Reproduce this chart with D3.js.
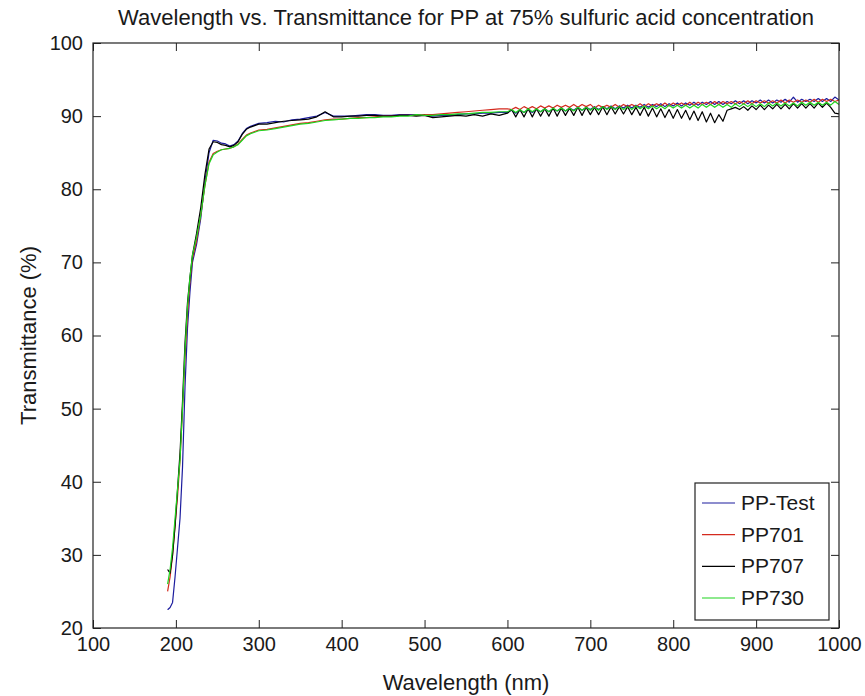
<!DOCTYPE html>
<html>
<head>
<meta charset="utf-8">
<script src="https://cdn.jsdelivr.net/npm/d3@7"></script>
<style>
  html, body { margin: 0; padding: 0; background: #fff; }
  svg { display: block; }
  text { font-family: "Liberation Sans", Arial, sans-serif; fill: #1a1a1a; }
</style>
</head>
<body>
<svg id="chart" width="865" height="696"></svg>
<script>
const title = "Wavelength vs. Transmittance for PP at 75% sulfuric acid concentration";
const xLabel = "Wavelength (nm)";
const yLabel = "Transmittance (%)";
const xTicks = [100, 200, 300, 400, 500, 600, 700, 800, 900, 1000];
const yTicks = [20, 30, 40, 50, 60, 70, 80, 90, 100];
const seriesNames = ["PP-Test", "PP701", "PP707", "PP730"];

const wavelengths = [
  190,193,196,199,202,205,208,211,214,217,220,225,230,235,240,245,250,255,260,265,270,275,280,285,290,295,300,
  310,320,330,340,350,360,370,380,390,400,410,420,430,440,450,460,470,480,490,500,510,520,530,540,550,560,570,580,590,600,
  605,610,615,620,625,630,635,640,645,650,655,660,665,670,675,680,685,690,695,700,
  705,710,715,720,725,730,735,740,745,750,755,760,765,770,775,780,785,790,795,800,
  805,810,815,820,825,830,835,840,845,850,855,860,865,870,875,880,885,890,895,900,
  905,910,915,920,925,930,935,940,945,950,955,960,965,970,975,980,985,990,995,1000
];

const ppTest = [
  22.5,22.8,23.5,27,31,35,42,53,61,66,70,72.5,76,81,85,86.7,86.6,86.3,86.2,85.9,86.1,86.6,87.6,88.3,88.6,88.8,89.0,
  89.1,89.3,89.2,89.5,89.6,89.8,90.0,90.5,90.0,90.0,90.0,90.1,90.2,90.2,90.1,90.1,90.2,90.2,90.2,90.1,90.0,90.1,90.1,90.2,90.3,90.3,90.4,90.4,90.5,90.5,
  90.8,90.4,90.8,90.5,90.9,90.5,90.9,90.6,91.0,90.6,91.0,90.7,91.1,90.7,91.1,90.8,91.2,90.8,91.2,90.9,
  91.3,90.9,91.3,91.0,91.4,91.0,91.4,91.1,91.5,91.1,91.5,91.2,91.6,91.2,91.6,91.3,91.7,91.3,91.7,91.4,
  91.8,91.4,91.8,91.5,91.9,91.5,91.9,91.6,92.0,91.6,92.0,91.6,92.0,91.7,92.1,91.7,92.1,91.7,92.1,91.8,
  92.2,91.8,92.2,91.8,92.2,91.9,92.3,91.9,92.6,91.9,92.3,92.0,92.3,92.0,92.4,92.0,92.4,92.0,92.6,92.2
];

const pp701 = [
  25,27,30,34,38,43,50,57,63,67.5,70.5,73,76.5,80.5,83.7,84.9,85.2,85.4,85.5,85.6,85.8,86.2,86.8,87.4,87.7,87.9,88.1,
  88.2,88.4,88.6,88.8,89.0,89.1,89.3,89.5,89.6,89.6,89.7,89.8,89.8,89.9,90.0,90.0,90.1,90.1,90.1,90.2,90.2,90.3,90.4,90.5,90.6,90.7,90.8,90.9,91.0,91.0,
  90.9,91.2,90.9,91.3,91.0,91.3,91.0,91.4,91.1,91.4,91.1,91.5,91.2,91.5,91.2,91.6,91.2,91.6,91.3,91.6,
  91.1,91.5,91.2,91.5,91.2,91.6,91.2,91.6,91.3,91.6,91.3,91.7,91.3,91.7,91.4,91.7,91.4,91.8,91.4,91.8,
  91.5,91.8,91.5,91.9,91.5,91.9,91.6,91.9,91.6,92.0,91.6,92.0,91.7,92.0,91.7,92.0,91.7,92.1,91.7,92.1,
  91.8,92.1,91.8,92.1,91.8,92.2,91.8,92.2,91.9,92.2,91.9,92.2,91.9,92.3,91.9,92.3,92.0,92.3,92.0,92.2
];

const pp707 = [
  28,27.5,30,34,39,44,51,59,64.5,68,71,74,77.5,82,85.5,86.5,86.4,86.1,86,85.8,86,86.5,87.5,88.2,88.5,88.7,88.9,
  88.9,89.1,89.3,89.4,89.5,89.6,89.9,90.6,89.9,89.9,90.0,90.0,90.1,90.1,90.0,90.0,90.1,90.1,90.0,90.1,89.8,89.9,90.0,90.1,90.0,90.2,90.0,90.3,90.1,90.4,
  90.9,89.9,90.9,89.9,91.0,89.9,91.0,90.0,91.0,90.0,91.1,90.0,91.1,90.1,91.1,90.1,91.2,90.1,91.2,90.2,
  91.2,90.2,91.3,90.2,91.3,90.3,91.3,90.3,91.3,90.2,91.2,90.1,91.2,90.0,91.1,89.9,91.0,89.8,90.9,89.7,
  90.9,89.7,90.8,89.5,90.7,89.4,90.6,89.2,90.4,89.1,90.2,89.3,90.8,91.0,91.2,90.9,91.3,90.8,91.4,90.9,
  91.5,90.9,91.5,91.0,91.6,91.0,91.6,91.0,91.7,91.1,91.7,91.1,91.7,91.1,91.8,91.2,91.8,91.2,90.4,90.3
];

const pp730 = [
  26,28,31,35,39,43,50,58,64,68,71,73.5,76.5,80.5,83.5,84.7,85.1,85.4,85.5,85.6,85.8,86.1,86.7,87.3,87.6,87.8,88.0,
  88.1,88.3,88.5,88.7,88.9,89.0,89.2,89.4,89.5,89.6,89.7,89.7,89.8,89.8,89.9,89.9,90.0,90.0,90.2,90.1,90.1,90.2,90.2,90.3,90.3,90.4,90.5,90.5,90.6,90.6,
  90.9,90.5,90.9,90.5,91.0,90.6,91.0,90.6,91.0,90.6,91.1,90.7,91.1,90.7,91.1,90.7,91.2,90.8,91.2,90.8,
  91.2,90.8,91.3,90.9,91.3,90.9,91.3,90.9,91.3,90.9,91.4,91.0,91.4,91.0,91.4,91.0,91.4,91.0,91.5,91.1,
  91.5,91.1,91.5,91.1,91.5,91.1,91.6,91.2,91.6,91.2,91.6,91.2,91.6,91.2,91.7,91.3,91.7,91.3,91.7,91.3,
  91.7,91.3,91.8,91.4,91.8,91.4,91.8,91.4,91.8,91.4,91.9,91.5,91.9,91.5,91.9,91.5,91.9,91.5,92.0,91.6
];

const seriesValues = [ppTest, pp701, pp707, pp730];
const seriesColors = ["#1c1c9e", "#d42a1e", "#000000", "#1fd41f"];

const svg = d3.select("#chart");
const m = { left: 93, right: 839, top: 43, bottom: 628 };
const x = d3.scaleLinear().domain([100, 1000]).range([m.left, m.right]);
const y = d3.scaleLinear().domain([20, 100]).range([m.bottom, m.top]);

// title
svg.append("text")
  .attr("x", (m.left + m.right) / 2).attr("y", 25)
  .attr("text-anchor", "middle").style("font-size", "22px")
  .text(title);

// series
const line = d3.line().x((d, i) => x(wavelengths[i])).y(d => y(d));
const g = svg.append("g");
seriesValues.forEach((vals, k) => {
  g.append("path").datum(vals)
    .attr("fill", "none").attr("stroke", seriesColors[k])
    .attr("stroke-width", 1.2).attr("stroke-linejoin", "round")
    .attr("d", line);
});

// axes (ticks inward, box)
const tickLen = 8;
const axB = svg.append("g").attr("transform", `translate(0,${m.bottom})`)
  .call(d3.axisBottom(x).tickValues(xTicks).tickSize(-tickLen).tickPadding(9).tickFormat(d3.format("d")));
const axT = svg.append("g").attr("transform", `translate(0,${m.top})`)
  .call(d3.axisTop(x).tickValues(xTicks).tickSize(-tickLen).tickFormat(""));
const axL = svg.append("g").attr("transform", `translate(${m.left},0)`)
  .call(d3.axisLeft(y).tickValues(yTicks).tickSize(-tickLen).tickPadding(10).tickFormat(d3.format("d")));
const axR = svg.append("g").attr("transform", `translate(${m.right},0)`)
  .call(d3.axisRight(y).tickValues(yTicks).tickSize(-tickLen).tickFormat(""));
[axB, axT, axL, axR].forEach(a => {
  a.select(".domain").remove();
  a.selectAll(".tick line").attr("stroke", "#222").attr("stroke-width", 1);
  a.selectAll("text").style("font-size", "20px").style("font-family", "'Liberation Sans', Arial, sans-serif").attr("fill", "#1a1a1a");
});
svg.append("rect").attr("x", m.left).attr("y", m.top)
  .attr("width", m.right - m.left).attr("height", m.bottom - m.top)
  .attr("fill", "none").attr("stroke", "#222").attr("stroke-width", 1.2);

// axis labels
svg.append("text").attr("x", (m.left + m.right) / 2).attr("y", 690)
  .attr("text-anchor", "middle").style("font-size", "22px").text(xLabel);
svg.append("text").attr("transform", `translate(36,${(m.top + m.bottom) / 2}) rotate(-90)`)
  .attr("text-anchor", "middle").style("font-size", "22px").text(yLabel);

// legend
const lg = { x0: 695, x1: 829, y0: 483, y1: 620 };
const leg = svg.append("g");
leg.append("rect").attr("x", lg.x0).attr("y", lg.y0)
  .attr("width", lg.x1 - lg.x0).attr("height", lg.y1 - lg.y0)
  .attr("fill", "#fff").attr("stroke", "#222").attr("stroke-width", 1.2);
const ly = d3.scalePoint().domain(seriesNames).range([503, 598]);
seriesNames.forEach((name, k) => {
  leg.append("line").attr("x1", lg.x0 + 7).attr("x2", lg.x0 + 40)
    .attr("y1", ly(name)).attr("y2", ly(name))
    .attr("stroke", seriesColors[k]).attr("stroke-width", 1.2);
  leg.append("text").attr("x", lg.x0 + 46).attr("y", ly(name) + 7)
    .style("font-size", "21px").text(name);
});
</script>
</body>
</html>
